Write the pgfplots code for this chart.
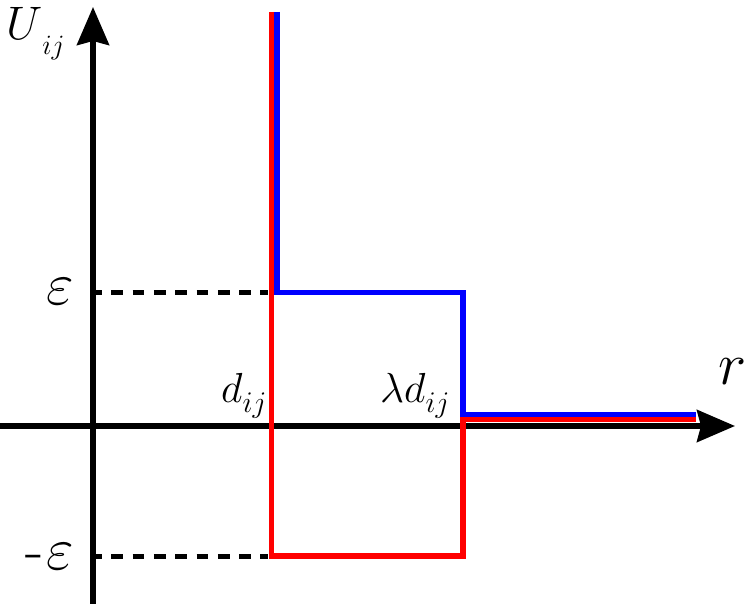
\RequirePackage{fix-cm}
\documentclass[border=0pt]{standalone}
\usepackage{pgfplots}
\pgfplotsset{compat=1.18}
\usetikzlibrary{arrows.meta}
\begin{document}
\begin{tikzpicture}
\begin{axis}[
  scale only axis,
  width=747bp, height=604bp,
  xmin=0, xmax=747, ymin=0, ymax=604,
  axis lines=none,
  clip=false,
]
% axes
\addplot[black, line width=5.5bp, -{Stealth[length=38bp, width=32bp, inset=4bp]}] coordinates {(93,0) (93,597)};
\addplot[black, line width=5.5bp, -{Stealth[length=38bp, width=32bp, inset=4bp]}] coordinates {(0,178) (735,178)};
% dashed guides
\addplot[black, line width=5bp, dash pattern=on 11.7bp off 9.6bp, dash phase=5bp] coordinates {(95,311.5) (268,311.5)};
\addplot[black, line width=5bp, dash pattern=on 11.7bp off 9.6bp, dash phase=5bp] coordinates {(95,47) (268,47)};
% blue
\addplot[blue, line width=5.3bp, line join=miter] coordinates {(277,592) (277,311.5) (463,311.5) (463,189.6) (696,189.6)};
% red
\addplot[red, line width=5.3bp, line join=miter] coordinates {(271.5,592) (271.5,48) (463,48) (463,184.3) (696,184.3)};
% labels
\node[anchor=base west, inner sep=0pt] at (axis cs:6,564) {\fontsize{47bp}{50bp}\selectfont$U$\raisebox{-15bp}{\fontsize{28bp}{30bp}\selectfont$ij$}};
\node[anchor=center, inner sep=0pt] at (axis cs:60,312) {\fontsize{60bp}{62bp}\selectfont$\varepsilon$};
\node[anchor=center, inner sep=0pt] at (axis cs:49.5,47) {\fontsize{60bp}{62bp}\selectfont-\kern3bp$\varepsilon$};
\node[anchor=base, inner sep=0pt] at (axis cs:733,219) {\fontsize{60bp}{62bp}\selectfont$r$};
\node[anchor=base west, inner sep=0pt] at (axis cs:221,201) {\fontsize{42bp}{44bp}\selectfont$d$\raisebox{-10bp}{\fontsize{30bp}{32bp}\selectfont$ij$}};
\node[anchor=base west, inner sep=0pt] at (axis cs:380,201) {\fontsize{42bp}{44bp}\selectfont$\lambda d$\raisebox{-10bp}{\fontsize{30bp}{32bp}\selectfont$ij$}};
\end{axis}
\pgfresetboundingbox
\useasboundingbox (current axis.south west) rectangle (current axis.north east);
\end{tikzpicture}
\end{document}
